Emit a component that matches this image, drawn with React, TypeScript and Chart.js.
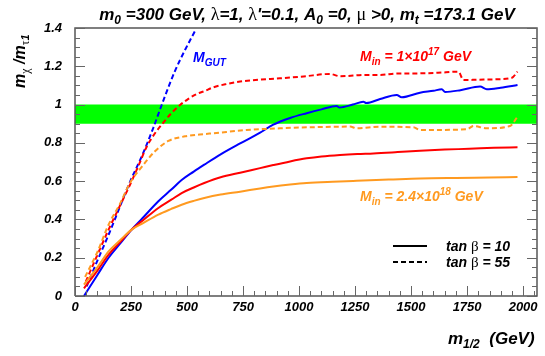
import React, { useEffect, useRef } from 'react';
import { Chart, registerables } from 'chart.js';

Chart.register(...registerables);

// ---------- axis data ----------
const X_MIN = 0;
const X_MAX = 2062;
const Y_MIN = 0;
const Y_MAX = 1.4;
const X_TICKS = [0, 250, 500, 750, 1000, 1250, 1500, 1750, 2000];
const Y_TICKS = [0, 0.2, 0.4, 0.6, 0.8, 1.0, 1.2, 1.4];
const X_MINOR_STEP = 50;
const Y_MINOR_STEP = 0.05;
const BAND_LOW = 0.9;
const BAND_HIGH = 1.0;

// ---------- series: M_GUT, tan beta = 10 ----------
const GUT_TB10_X = [40, 100, 150, 200, 253, 300, 372, 430, 476, 530, 577, 650, 737, 826, 885, 960, 1034, 1100, 1168, 1180, 1240, 1287, 1300, 1362, 1436, 1458, 1540, 1600, 1637, 1652, 1720, 1808, 1838, 1900, 1975];
const GUT_TB10_Y = [0.0, 0.11, 0.2, 0.272, 0.347, 0.405, 0.495, 0.556, 0.606, 0.65, 0.686, 0.74, 0.797, 0.853, 0.895, 0.93, 0.955, 0.975, 0.993, 0.985, 1.0, 1.015, 1.008, 1.029, 1.05, 1.038, 1.062, 1.072, 1.08, 1.066, 1.075, 1.094, 1.08, 1.088, 1.102];

// ---------- series: M_GUT, tan beta = 55 ----------
const GUT_TB55_X = [52, 100, 150, 200, 245, 300, 350, 375, 402, 446, 491, 536];
const GUT_TB55_Y = [0.05, 0.185, 0.32, 0.465, 0.595, 0.735, 0.88, 0.96, 1.045, 1.175, 1.285, 1.385];

// ---------- series: M_in = 1e17, tan beta = 10 ----------
const M17_TB10_X = [40, 100, 150, 200, 253, 300, 372, 430, 476, 530, 577, 650, 737, 826, 885, 960, 1034, 1100, 1183, 1260, 1332, 1440, 1540, 1650, 1760, 1870, 1975];
const M17_TB10_Y = [0.04, 0.133, 0.216, 0.28, 0.347, 0.392, 0.46, 0.503, 0.538, 0.567, 0.59, 0.62, 0.644, 0.668, 0.684, 0.703, 0.719, 0.729, 0.737, 0.742, 0.745, 0.752, 0.759, 0.765, 0.769, 0.774, 0.777];

// ---------- series: M_in = 1e17, tan beta = 55 ----------
const M17_TB55_X = [48, 100, 150, 200, 245, 283, 320, 357, 394, 430, 469, 506, 543, 577, 617, 680, 737, 820, 915, 1020, 1138, 1183, 1300, 1362, 1436, 1540, 1620, 1711, 1734, 1800, 1883, 1950, 1975];
const M17_TB55_Y = [0.075, 0.215, 0.347, 0.47, 0.58, 0.68, 0.78, 0.85, 0.905, 0.955, 0.998, 1.03, 1.055, 1.07, 1.09, 1.108, 1.12, 1.13, 1.137, 1.147, 1.16, 1.148, 1.155, 1.155, 1.162, 1.163, 1.166, 1.172, 1.128, 1.13, 1.132, 1.14, 1.172];

// ---------- series: M_in = 2.4e18, tan beta = 10 ----------
const M18_TB10_X = [40, 100, 150, 200, 253, 300, 372, 430, 476, 530, 577, 650, 737, 826, 885, 960, 1034, 1150, 1257, 1400, 1540, 1700, 1850, 1975];
const M18_TB10_Y = [0.06, 0.15, 0.233, 0.29, 0.347, 0.378, 0.425, 0.455, 0.477, 0.497, 0.512, 0.53, 0.545, 0.562, 0.572, 0.582, 0.59, 0.597, 0.602, 0.608, 0.614, 0.617, 0.619, 0.621];

// ---------- series: M_in = 2.4e18, tan beta = 55 ----------
const M18_TB55_X = [45, 100, 150, 200, 245, 298, 357, 417, 491, 577, 617, 766, 915, 1034, 1228, 1257, 1362, 1511, 1540, 1749, 1779, 1838, 1942, 1975];
const M18_TB55_Y = [0.1, 0.23, 0.373, 0.48, 0.59, 0.675, 0.756, 0.81, 0.834, 0.846, 0.85, 0.867, 0.876, 0.881, 0.885, 0.876, 0.884, 0.881, 0.867, 0.871, 0.888, 0.876, 0.888, 0.937];

const BLUE = '#0000ff';
const RED = '#ff0000';
const ORANGE = '#ff9a20';
const GREEN = '#00ff00';
const FRAME = '#555555';

const SANS = "'Liberation Sans', Arial, sans-serif";
const SERIF = "'Liberation Serif', 'Times New Roman', serif";

type Seg = { t: string; size: number; dy?: number; greek?: boolean };

function setFont(ctx: CanvasRenderingContext2D, s: Seg) {
  ctx.font = s.greek ? `${s.size}px ${SERIF}` : `italic bold ${s.size}px ${SANS}`;
}

function measureRich(ctx: CanvasRenderingContext2D, segs: Seg[]) {
  let w = 0;
  for (const s of segs) {
    setFont(ctx, s);
    w += ctx.measureText(s.t).width;
  }
  return w;
}

function drawRich(ctx: CanvasRenderingContext2D, x: number, y: number, segs: Seg[], color: string) {
  ctx.fillStyle = color;
  ctx.textAlign = 'left';
  ctx.textBaseline = 'alphabetic';
  let cx = x;
  for (const s of segs) {
    setFont(ctx, s);
    ctx.fillText(s.t, cx, y + (s.dy || 0));
    cx += ctx.measureText(s.t).width;
  }
}

const TITLE: Seg[] = [
  { t: 'm', size: 17 },
  { t: '0', size: 12, dy: 4 },
  { t: ' =300 GeV, ', size: 17 },
  { t: 'λ', size: 18, greek: true },
  { t: '=1, ', size: 17 },
  { t: 'λ', size: 18, greek: true },
  { t: "'=0.1, A", size: 17 },
  { t: '0', size: 12, dy: 4 },
  { t: ' =0, ', size: 17 },
  { t: 'μ', size: 18, greek: true },
  { t: ' >0, m', size: 17 },
  { t: 't', size: 12, dy: 4 },
  { t: ' =173.1 GeV', size: 17 },
];

const Y_TITLE: Seg[] = [
  { t: 'm', size: 16 },
  { t: 'χ', size: 12, dy: 4, greek: true },
  { t: ' /m', size: 16 },
  { t: 'τ', size: 12, dy: 4, greek: true },
  { t: '1', size: 11, dy: 4 },
];

const X_TITLE: Seg[] = [
  { t: 'm', size: 17 },
  { t: '1/2', size: 12, dy: 4 },
  { t: '  (GeV)', size: 17 },
];

const LBL_GUT: Seg[] = [
  { t: 'M', size: 14 },
  { t: 'GUT', size: 10, dy: 4 },
];
const LBL_M17: Seg[] = [
  { t: 'M', size: 14 },
  { t: 'in', size: 10, dy: 4 },
  { t: ' = 1×10', size: 14 },
  { t: '17', size: 10, dy: -6 },
  { t: ' GeV', size: 14 },
];
const LBL_M18: Seg[] = [
  { t: 'M', size: 14 },
  { t: 'in', size: 10, dy: 4 },
  { t: ' = 2.4×10', size: 14 },
  { t: '18', size: 10, dy: -6 },
  { t: ' GeV', size: 14 },
];
const LEG_10: Seg[] = [
  { t: 'tan ', size: 14 },
  { t: 'β', size: 15, greek: true },
  { t: ' = 10', size: 14 },
];
const LEG_55: Seg[] = [
  { t: 'tan ', size: 14 },
  { t: 'β', size: 15, greek: true },
  { t: ' = 55', size: 14 },
];

const pts = (xs: number[], ys: number[]) => xs.map((x, i) => ({ x, y: ys[i] }));

// frame outline, traced through the chart's own scales
const FRAME_PTS = [
  { x: X_MIN, y: Y_MIN },
  { x: X_MIN, y: Y_MAX },
  { x: X_MAX, y: Y_MAX },
  { x: X_MAX, y: Y_MIN },
  { x: X_MIN, y: Y_MIN },
];

const decorPlugin = {
  id: 'decor',
  afterDraw(chart: any) {
    const ctx: CanvasRenderingContext2D = chart.ctx;
    const xs = chart.scales.x;
    const ys = chart.scales.y;
    const L = Math.round(xs.getPixelForValue(X_MIN));
    const R = Math.round(xs.getPixelForValue(X_MAX));
    const B = Math.round(ys.getPixelForValue(Y_MIN));
    ctx.save();
    ctx.setLineDash([]);
    ctx.globalAlpha = 1;
    ctx.globalCompositeOperation = 'source-over';
    ctx.fillStyle = '#666666';
    // inward ticks
    for (let v = X_MIN; v <= X_MAX; v += X_MINOR_STEP) {
      const px = Math.round(xs.getPixelForValue(v));
      const len = v % 250 === 0 ? 10 : 5;
      ctx.fillRect(px, B - len, 1, len);
    }
    for (let i = 0; Y_MIN + i * Y_MINOR_STEP <= Y_MAX + 1e-9; i++) {
      const v = Y_MIN + i * Y_MINOR_STEP;
      const py = Math.round(ys.getPixelForValue(v));
      const len = i % 4 === 0 ? 10 : 5;
      ctx.fillRect(L, py, len, 1);
      ctx.fillRect(R - len, py, len, 1);
    }

    // title
    const tw = measureRich(ctx, TITLE);
    drawRich(ctx, 307 - tw / 2, 20, TITLE, '#000');

    // y title
    ctx.save();
    ctx.translate(25, 88);
    ctx.rotate(-Math.PI / 2);
    drawRich(ctx, 0, 0, Y_TITLE, '#000');
    ctx.restore();

    // x title
    drawRich(ctx, 448, 344, X_TITLE, '#000');

    // curve labels
    drawRich(ctx, 193, 62, LBL_GUT, BLUE);
    drawRich(ctx, 360, 61, LBL_M17, RED);
    drawRich(ctx, 360, 201, LBL_M18, ORANGE);

    // legend
    ctx.strokeStyle = '#000';
    ctx.lineWidth = 2;
    ctx.beginPath();
    ctx.moveTo(393, 246);
    ctx.lineTo(427, 246);
    ctx.stroke();
    ctx.setLineDash([5, 3]);
    ctx.beginPath();
    ctx.moveTo(393, 262);
    ctx.lineTo(427, 262);
    ctx.stroke();
    ctx.setLineDash([]);
    drawRich(ctx, 446, 251, LEG_10, '#000');
    drawRich(ctx, 446, 267, LEG_55, '#000');
    ctx.restore();
  },
};

function lineDs(label: string, xs: number[], ys: number[], color: string, dashed: boolean) {
  return {
    label,
    data: pts(xs, ys),
    borderColor: color,
    backgroundColor: color,
    borderWidth: 2,
    borderDash: dashed ? [5, 3] : [],
    pointRadius: 0,
    fill: false,
    cubicInterpolationMode: 'monotone',
    order: 1,
  };
}

export default function App() {
  const ref = useRef<HTMLCanvasElement>(null);
  useEffect(() => {
    document.body.style.margin = '0';
    const canvas = ref.current!;
    const tickFont = { family: SANS, size: 13, style: 'italic' as const, weight: 'bold' as const };
    const chart = new Chart(canvas, {
      type: 'line',
      data: {
        datasets: [
          {
            label: 'band',
            data: [{ x: X_MIN, y: BAND_HIGH }, { x: X_MAX, y: BAND_HIGH }],
            borderWidth: 0,
            borderColor: 'rgba(0,0,0,0)',
            backgroundColor: GREEN,
            pointRadius: 0,
            fill: { value: BAND_LOW },
            order: 10,
          } as any,
          lineDs('M18 tb10', M18_TB10_X, M18_TB10_Y, ORANGE, false),
          lineDs('M18 tb55', M18_TB55_X, M18_TB55_Y, ORANGE, true),
          lineDs('M17 tb10', M17_TB10_X, M17_TB10_Y, RED, false),
          lineDs('M17 tb55', M17_TB55_X, M17_TB55_Y, RED, true),
          lineDs('GUT tb10', GUT_TB10_X, GUT_TB10_Y, BLUE, false),
          lineDs('GUT tb55', GUT_TB55_X, GUT_TB55_Y, BLUE, true),
          {
            label: 'frame',
            data: FRAME_PTS,
            borderColor: FRAME,
            borderWidth: 1.5,
            pointRadius: 0,
            fill: false,
            tension: 0,
            clip: false,
            order: 0,
          } as any,
        ] as any,
      },
      options: {
        animation: false,
        responsive: false,
        maintainAspectRatio: false,
        layout: { padding: { top: 28, right: 8, left: 0, bottom: 0 } },
        plugins: {
          legend: { display: false },
          tooltip: { enabled: false },
          title: { display: false },
        },
        scales: {
          x: {
            type: 'linear',
            min: X_MIN,
            max: X_MAX,
            afterBuildTicks: (s: any) => {
              s.ticks = X_TICKS.map((v) => ({ value: v }));
            },
            afterFit: (s: any) => {
              s.height = 60;
            },
            grid: { display: false, drawTicks: false },
            border: { display: false },
            ticks: {
              font: tickFont,
              color: '#000',
              padding: 4,
              maxRotation: 0,
              autoSkip: false,
              callback: (v: any) => String(v),
            },
          },
          y: {
            type: 'linear',
            min: Y_MIN,
            max: Y_MAX,
            afterBuildTicks: (s: any) => {
              s.ticks = Y_TICKS.map((v) => ({ value: v }));
            },
            afterFit: (s: any) => {
              s.width = 75;
            },
            grid: { display: false, drawTicks: false },
            border: { display: false },
            ticks: {
              font: tickFont,
              color: '#000',
              padding: 13,
              autoSkip: false,
              callback: (v: any) => String(Number(Number(v).toFixed(1))),
            },
          },
        },
      } as any,
      plugins: [decorPlugin],
    });
    return () => chart.destroy();
  }, []);
  return <canvas ref={ref} width={545} height={356} style={{ display: 'block' }} />;
}
